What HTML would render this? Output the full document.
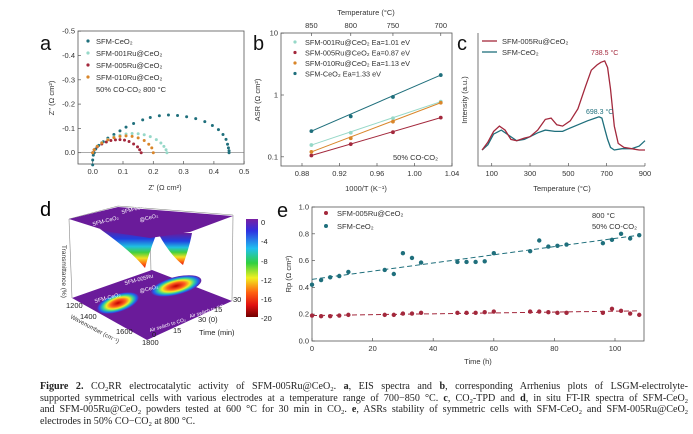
<!DOCTYPE html>
<html><head><meta charset="utf-8"><style>
body{margin:0;background:#fff;}
#wrap{position:relative;width:693px;height:434px;overflow:hidden;background:#fff;font-family:"Liberation Sans",sans-serif;}
svg text{font-family:"Liberation Sans",sans-serif;}
#cap{position:absolute;left:40px;top:381px;width:648px;font-family:"Liberation Serif",serif;font-size:10.1px;line-height:11.7px;color:#222;}
#cap div{white-space:nowrap;text-align:justify;text-align-last:justify;height:11.7px;}
#cap div.last{text-align-last:left;}
#cap sub{font-size:6.5px;line-height:0;vertical-align:-2px;}
</style></head><body>
<div id="wrap">
<svg id="svg" width="693" height="380" viewBox="0 0 693 380">
<defs>
<linearGradient id="trough" x1="0" y1="0" x2="0" y2="1">
<stop offset="0" stop-color="#6a1b9a"/><stop offset="0.25" stop-color="#2040e0"/><stop offset="0.45" stop-color="#20c0e0"/><stop offset="0.6" stop-color="#40d040"/><stop offset="0.75" stop-color="#f0e020"/><stop offset="0.88" stop-color="#ff7010"/><stop offset="1" stop-color="#e01010"/></linearGradient>
<linearGradient id="cbar" x1="0" y1="0" x2="0" y2="1">
<stop offset="0" stop-color="#7a1fa2"/><stop offset="0.12" stop-color="#3030e0"/><stop offset="0.3" stop-color="#20c0f0"/><stop offset="0.45" stop-color="#30d040"/><stop offset="0.6" stop-color="#f0f020"/><stop offset="0.75" stop-color="#ff6010"/><stop offset="0.88" stop-color="#e01010"/><stop offset="1" stop-color="#700000"/></linearGradient>
<radialGradient id="blob"><stop offset="0" stop-color="#c00000"/><stop offset="0.35" stop-color="#ff6020"/><stop offset="0.55" stop-color="#f0f020"/><stop offset="0.72" stop-color="#30d0a0"/><stop offset="0.88" stop-color="#2060f0"/><stop offset="1" stop-color="#6a1b9a"/></radialGradient>
</defs>
<g id="pa"></g>
<g id="pb"></g>
<g id="pc"></g>
<g id="pd">
<text x="40" y="216" font-size="20">d</text>
<polyline points="69,219 118,206 233,215" fill="none" stroke="#888" stroke-width="0.6"/>
<line x1="69" y1="219" x2="72" y2="298" stroke="#888" stroke-width="0.6"/>
<line x1="233" y1="215" x2="232" y2="301" stroke="#888" stroke-width="0.6"/>
<line x1="150" y1="225" x2="151" y2="272" stroke="#888" stroke-width="0.6"/>
<polygon points="72,298 152,270 232,301 147,340" fill="#6a1b9a"/>
<ellipse cx="118" cy="303" rx="22" ry="9" fill="url(#blob)" transform="rotate(-18 118 303)"/>
<ellipse cx="176" cy="286" rx="26" ry="9" fill="url(#blob)" transform="rotate(-14 176 286)"/>
<path d="M100,229 Q130,250 145,268 Q150,250 156,235 Z" fill="url(#trough)"/>
<path d="M158,233 Q170,255 183,265 Q190,245 192,233 Z" fill="url(#trough)"/>
<polygon points="69,219 118,207 233,216 190,232 150,238 110,232" fill="#6a1b9a"/>
<text x="93" y="226" font-size="5.5" fill="#fff" transform="rotate(-15 93 226)">SFM-CeO₂</text>
<text x="122" y="214" font-size="5.5" fill="#fff" transform="rotate(-15 122 214)">SFM-005Ru</text>
<text x="140" y="222" font-size="5.5" fill="#fff" transform="rotate(-15 140 222)">@CeO₂</text>
<text x="95" y="303" font-size="5.5" fill="#fff" transform="rotate(-15 95 303)">SFM-CeO₂</text>
<text x="125" y="285" font-size="5.5" fill="#fff" transform="rotate(-15 125 285)">SFM-005Ru</text>
<text x="140" y="293" font-size="5.5" fill="#fff" transform="rotate(-15 140 293)">@CeO₂</text>
<text x="150" y="332" font-size="5" fill="#fff" transform="rotate(-17 150 332)">Air switch to CO₂</text>
<text x="190" y="318" font-size="5" fill="#fff" transform="rotate(-17 190 318)">Air switch to CO₂</text>
<text x="62" y="245" font-size="6.5" fill="#333" transform="rotate(90 62 245)">Transmittance (%)</text>
<text x="66" y="308" font-size="7.5" fill="#222">1200</text>
<text x="80" y="319" font-size="7.5" fill="#222">1400</text>
<text x="116" y="334" font-size="7.5" fill="#222">1600</text>
<text x="142" y="345" font-size="7.5" fill="#222">1800</text>
<text x="152" y="337" font-size="7.5" fill="#222">0</text>
<text x="173" y="333" font-size="7.5" fill="#222">15</text>
<text x="198" y="322" font-size="7.5" fill="#222">30 (0)</text>
<text x="214" y="312" font-size="7.5" fill="#222">15</text>
<text x="233" y="302" font-size="7.5" fill="#222">30</text>
<text x="199" y="335" font-size="7.5" fill="#222">Time (min)</text>
<text x="70" y="318" font-size="6" fill="#333" transform="rotate(28 70 318)">Wavenumber (cm⁻¹)</text>
<rect x="246" y="219" width="12" height="98" fill="url(#cbar)"/>
<g font-size="7.5" fill="#222">
<text x="261" y="225">0</text><text x="261" y="244">-4</text><text x="261" y="264">-8</text><text x="261" y="283">-12</text><text x="261" y="302">-16</text><text x="261" y="321">-20</text></g>
</g>
<g id="pe"></g>
</svg>
<div id="cap">
<div><b>Figure 2.</b> CO<sub>2</sub>RR electrocatalytic activity of SFM-005Ru@CeO<sub>2</sub>. <b>a</b>, EIS spectra and <b>b</b>, corresponding Arrhenius plots of LSGM-electrolyte-</div>
<div>supported symmetrical cells with various electrodes at a temperature range of 700−850 °C. <b>c</b>, CO<sub>2</sub>-TPD and <b>d</b>, in situ FT-IR spectra of SFM-CeO<sub>2</sub></div>
<div>and SFM-005Ru@CeO<sub>2</sub> powders tested at 600 °C for 30 min in CO<sub>2</sub>. <b>e</b>, ASRs stability of symmetric cells with SFM-CeO<sub>2</sub> and SFM-005Ru@CeO<sub>2</sub></div>
<div class="last">electrodes in 50% CO−CO<sub>2</sub> at 800 °C.</div>
</div>
</div>
<script>
// ---- Panel a data (EIS Nyquist) ----
const aCeO2X=[0,0,0.002,0.005,0.01,0.02,0.035,0.05,0.07,0.09,0.11,0.135,0.165,0.19,0.22,0.25,0.28,0.31,0.34,0.37,0.395,0.415,0.43,0.44,0.445,0.448,0.45,0.45];
const aCeO2Y=[0.05,0.03,0.01,0,-0.015,-0.03,-0.045,-0.06,-0.075,-0.09,-0.105,-0.12,-0.135,-0.145,-0.152,-0.155,-0.153,-0.148,-0.14,-0.128,-0.112,-0.095,-0.075,-0.055,-0.035,-0.02,-0.008,0];
const a001X=[0,0.005,0.015,0.03,0.05,0.07,0.09,0.11,0.13,0.15,0.17,0.19,0.21,0.225,0.235,0.242,0.245];
const a001Y=[0,-0.012,-0.027,-0.042,-0.055,-0.065,-0.072,-0.077,-0.079,-0.078,-0.074,-0.066,-0.054,-0.04,-0.026,-0.012,0];
const a005X=[0,0.005,0.015,0.03,0.045,0.06,0.075,0.09,0.105,0.12,0.135,0.148,0.155,0.16];
const a005Y=[0,-0.012,-0.024,-0.036,-0.044,-0.05,-0.053,-0.054,-0.052,-0.046,-0.036,-0.024,-0.012,0];
const a010X=[0,0.005,0.015,0.03,0.05,0.07,0.09,0.11,0.13,0.15,0.17,0.185,0.195,0.2];
const a010Y=[0,-0.012,-0.026,-0.04,-0.053,-0.062,-0.067,-0.069,-0.067,-0.061,-0.05,-0.035,-0.02,0];
const aXTicks=[0,0.1,0.2,0.3,0.4,0.5];
const aYTicks=[-0.5,-0.4,-0.3,-0.2,-0.1,0.0];
// ---- Panel b data (Arrhenius) ----
const bX=[0.890,0.932,0.977,1.028];
const bTempLabels=["850","800","750","700"];
const b001=[0.155,0.245,0.42,0.78];
const b005=[0.105,0.16,0.25,0.43];
const b010=[0.12,0.2,0.37,0.75];
const bCeO2=[0.26,0.45,0.93,2.1];
const bXTicks=[0.88,0.92,0.96,1.00,1.04];
const bYTicks=[0.1,1,10];
// ---- Panel c data (CO2-TPD) ----
const cRuT=[50,80,110,140,170,200,230,270,300,340,380,410,440,470,510,550,590,620,650,670,690,705,720,740,760,790,830,870,900];
const cRuI=[12,18,26,30,27,20,19,21,22,27,35,36,31,30,34,43,60,72,76,78,79,74,58,30,17,14,13,12,12];
const cCeT=[50,80,110,150,190,230,270,300,340,380,430,470,500,550,600,640,660,675,690,705,720,740,780,830,870,900];
const cCeI=[12,16,24,27,23,19,20,22,25,27,26,26,28,31,34,36,37,36,28,20,14,12,13,13,15,19];
const cXTicks=[100,300,500,700,900];
// ---- Panel e data (stability) ----
const eT=[0,3,6,9,12,24,27,30,33,36,48,51,54,57,60,72,75,78,81,84,96,99,102,105,108];
const eCeO2=[0.42,0.455,0.475,0.485,0.515,0.53,0.5,0.655,0.62,0.585,0.59,0.59,0.59,0.595,0.655,0.67,0.75,0.705,0.71,0.72,0.73,0.755,0.8,0.765,0.79];
const eRu=[0.19,0.185,0.185,0.19,0.195,0.195,0.195,0.205,0.205,0.21,0.21,0.21,0.21,0.215,0.22,0.22,0.22,0.215,0.21,0.21,0.21,0.24,0.225,0.205,0.195];
const eCeO2Fit=[0.46,0.79];
const eRuFit=[0.19,0.225];
const eXTicks=[0,20,40,60,80,100];
const eYTicks=[0,0.2,0.4,0.6,0.8,1.0];

const NS="http://www.w3.org/2000/svg";
function mk(parent,tag,attrs,txt){const e=document.createElementNS(NS,tag);for(const k in attrs)e.setAttribute(k,attrs[k]);if(txt!==undefined)e.textContent=txt;parent.appendChild(e);return e;}
const TEAL="#1f6f7c",LIGHT="#96d8c8",RED="#a3283c",ORANGE="#d9862a",TXT="#333";

// ===== Panel a =====
(function(){
const g=document.getElementById('pa');
const xA=v=>92.7+v*303, yA=v=>152.7+v*243;
let t=mk(g,'text',{x:40,y:50,'font-size':20,fill:'#111'},'a');


let r=mk(g,'rect',{x:78,y:31,width:166,height:133,fill:'none',stroke:'#555','stroke-width':0.8});


let z=mk(g,'line',{x1:78,x2:244,y1:yA(0),y2:yA(0),stroke:'#777','stroke-width':0.7});


aXTicks.forEach(v=>{mk(g,'line',{x1:xA(v),x2:xA(v),y1:164,y2:161,stroke:'#555','stroke-width':0.7});
let l=mk(g,'text',{x:xA(v),y:174,'font-size':7.5,'text-anchor':'middle',fill:TXT},v.toFixed(1));

});
aYTicks.forEach(v=>{mk(g,'line',{x1:78,x2:81,y1:yA(v),y2:yA(v),stroke:'#555','stroke-width':0.7});
let l=mk(g,'text',{x:75,y:yA(v)+2.5,'font-size':7.5,'text-anchor':'end',fill:TXT},v.toFixed(1));

});
let xt=mk(g,'text',{x:165,y:190,'font-size':7.5,'text-anchor':'middle',fill:TXT},"Z' (Ω cm²)");


let yt=mk(g,'text',{x:54,y:98,'font-size':7.5,'text-anchor':'middle',fill:TXT,transform:'rotate(-90 54 98)'},"Z'' (Ω cm²)");


const series=[[aCeO2X,aCeO2Y,TEAL,'SFM-CeO₂'],[a001X,a001Y,LIGHT,'SFM-001Ru@CeO₂'],[a005X,a005Y,RED,'SFM-005Ru@CeO₂'],[a010X,a010Y,ORANGE,'SFM-010Ru@CeO₂']];
series.forEach((s,i)=>{s[0].forEach((x,j)=>{let c=mk(g,'circle',{cx:xA(x),cy:yA(s[1][j]),r:1.5,fill:s[2]});

});
let m=mk(g,'circle',{cx:88,cy:41+i*12,r:1.6,fill:s[2]});


let lt=mk(g,'text',{x:96,y:44+i*12,'font-size':7.5,fill:TXT},s[3]);

});
let n=mk(g,'text',{x:96,y:92,'font-size':7.5,fill:TXT},'50% CO-CO₂  800 °C');


})();

// ===== Panel b =====
(function(){
const g=document.getElementById('pb');
const xB=v=>302+(v-0.88)*937.5, yB=v=>95-Math.log10(v)*61.8;
let t=mk(g,'text',{x:253,y:50,'font-size':20,fill:'#111'},'b');


let r=mk(g,'rect',{x:281,y:33,width:171,height:133,fill:'none',stroke:'#555','stroke-width':0.8});


bXTicks.forEach(v=>{mk(g,'line',{x1:xB(v),x2:xB(v),y1:166,y2:163,stroke:'#555','stroke-width':0.7});
let l=mk(g,'text',{x:xB(v),y:176,'font-size':7.5,'text-anchor':'middle',fill:TXT},v.toFixed(2));

});
bYTicks.forEach(v=>{mk(g,'line',{x1:281,x2:284,y1:yB(v),y2:yB(v),stroke:'#555','stroke-width':0.7});
let l=mk(g,'text',{x:278,y:yB(v)+2.5,'font-size':7.5,'text-anchor':'end',fill:TXT},String(v));

});
bX.forEach((v,i)=>{mk(g,'line',{x1:xB(v),x2:xB(v),y1:33,y2:36,stroke:'#555','stroke-width':0.7});
let l=mk(g,'text',{x:xB(v),y:28,'font-size':7.5,'text-anchor':'middle',fill:TXT},bTempLabels[i]);

});
let tt=mk(g,'text',{x:366,y:15,'font-size':7.5,'text-anchor':'middle',fill:TXT},'Temperature (°C)');


let xt=mk(g,'text',{x:366,y:191,'font-size':7.5,'text-anchor':'middle',fill:TXT},'1000/T (K⁻¹)');


let yt=mk(g,'text',{x:260,y:100,'font-size':7.5,'text-anchor':'middle',fill:TXT,transform:'rotate(-90 260 100)'},'ASR (Ω cm²)');


const series=[[b001,LIGHT,'SFM-001Ru@CeO₂  Ea=1.01 eV'],[b005,RED,'SFM-005Ru@CeO₂  Ea=0.87 eV'],[b010,ORANGE,'SFM-010Ru@CeO₂  Ea=1.13 eV'],[bCeO2,TEAL,'SFM-CeO₂  Ea=1.33 eV']];
series.forEach((s,i)=>{const d=s[0];const n=d.length;
let ln=mk(g,'line',{x1:xB(bX[0]),y1:yB(d[0]),x2:xB(bX[n-1]),y2:yB(d[n-1]),stroke:s[1],'stroke-width':1});


d.forEach((v,j)=>{let c=mk(g,'circle',{cx:xB(bX[j]),cy:yB(v),r:1.9,fill:s[1]});

});
let m=mk(g,'circle',{cx:295,cy:42+i*10.5,r:1.6,fill:s[1]});


let lt=mk(g,'text',{x:305,y:45+i*10.5,'font-size':7.3,fill:TXT},s[2]);

});
let n=mk(g,'text',{x:393,y:160,'font-size':7.5,fill:TXT},'50% CO-CO₂');


})();

// ===== Panel c =====
(function(){
const g=document.getElementById('pc');
const xC=v=>491.7+(v-100)*0.1916, yC=v=>166-v*1.33;
let t=mk(g,'text',{x:457,y:50,'font-size':20,fill:'#111'},'c');


mk(g,'polyline',{points:'478,33 478,166 645,166',fill:'none',stroke:'#555','stroke-width':0.8});
cXTicks.forEach(v=>{mk(g,'line',{x1:xC(v),x2:xC(v),y1:166,y2:163,stroke:'#555','stroke-width':0.7});
let l=mk(g,'text',{x:xC(v),y:176,'font-size':7.5,'text-anchor':'middle',fill:TXT},String(v));

});
let xt=mk(g,'text',{x:562,y:191,'font-size':7.5,'text-anchor':'middle',fill:TXT},'Temperature (°C)');


let yt=mk(g,'text',{x:467,y:100,'font-size':7.5,'text-anchor':'middle',fill:TXT,transform:'rotate(-90 467 100)'},'Intensity (a.u.)');


function path(T,I){return T.map((v,i)=>(i?'L':'M')+xC(v).toFixed(1)+','+yC(I[i]).toFixed(1)).join(' ');}
let p1=mk(g,'path',{d:path(cCeT,cCeI),fill:'none',stroke:TEAL,'stroke-width':1.3});


let p2=mk(g,'path',{d:path(cRuT,cRuI),fill:'none',stroke:RED,'stroke-width':1.3});


[[RED,'SFM-005Ru@CeO₂',41],[TEAL,'SFM-CeO₂',52]].forEach(s=>{
let l=mk(g,'line',{x1:482,x2:497,y1:s[2],y2:s[2],stroke:s[0],'stroke-width':1.3});


let lt=mk(g,'text',{x:502,y:s[2]+3,'font-size':7.5,fill:TXT},s[1]);

});
let a1=mk(g,'text',{x:591,y:55,'font-size':7,fill:RED},'738.5 °C');


let a2=mk(g,'text',{x:586,y:114,'font-size':7,fill:TEAL},'698.3 °C');


})();

// ===== Panel e =====
(function(){
const g=document.getElementById('pe');
const xE=v=>312+v*3.03, yE=v=>341-v*134;
let t=mk(g,'text',{x:277,y:217,'font-size':20,fill:'#111'},'e');


let r=mk(g,'rect',{x:312,y:207,width:332,height:134,fill:'none',stroke:'#555','stroke-width':0.8});


eXTicks.forEach(v=>{mk(g,'line',{x1:xE(v),x2:xE(v),y1:341,y2:338,stroke:'#555','stroke-width':0.7});
let l=mk(g,'text',{x:xE(v),y:351,'font-size':7.5,'text-anchor':'middle',fill:TXT},String(v));

});
eYTicks.forEach(v=>{mk(g,'line',{x1:312,x2:315,y1:yE(v),y2:yE(v),stroke:'#555','stroke-width':0.7});
let l=mk(g,'text',{x:309,y:yE(v)+2.5,'font-size':7.5,'text-anchor':'end',fill:TXT},v.toFixed(1));

});
let xt=mk(g,'text',{x:478,y:364,'font-size':7.5,'text-anchor':'middle',fill:TXT},'Time (h)');


let yt=mk(g,'text',{x:291,y:274,'font-size':7.5,'text-anchor':'middle',fill:TXT,transform:'rotate(-90 291 274)'},'Rp (Ω cm²)');


const tEnd=eT[eT.length-1];
[[eCeO2,eCeO2Fit,TEAL],[eRu,eRuFit,RED]].forEach(s=>{
let ln=mk(g,'line',{x1:xE(0),y1:yE(s[1][0]),x2:xE(tEnd),y2:yE(s[1][1]),stroke:s[2],'stroke-width':1,'stroke-dasharray':'5,3'});


s[0].forEach((v,i)=>{let c=mk(g,'circle',{cx:xE(eT[i]),cy:yE(v),r:2.2,fill:s[2]});

});});
[[RED,'SFM-005Ru@CeO₂',213],[TEAL,'SFM-CeO₂',226]].forEach(s=>{
let m=mk(g,'circle',{cx:326,cy:s[2],r:2,fill:s[0]});


let lt=mk(g,'text',{x:337,y:s[2]+3,'font-size':7.5,fill:TXT},s[1]);

});
let n1=mk(g,'text',{x:592,y:218,'font-size':7.5,fill:TXT},'800 °C');


let n2=mk(g,'text',{x:592,y:229,'font-size':7.5,fill:TXT},'50% CO-CO₂');


})();
</script>
</body></html>
